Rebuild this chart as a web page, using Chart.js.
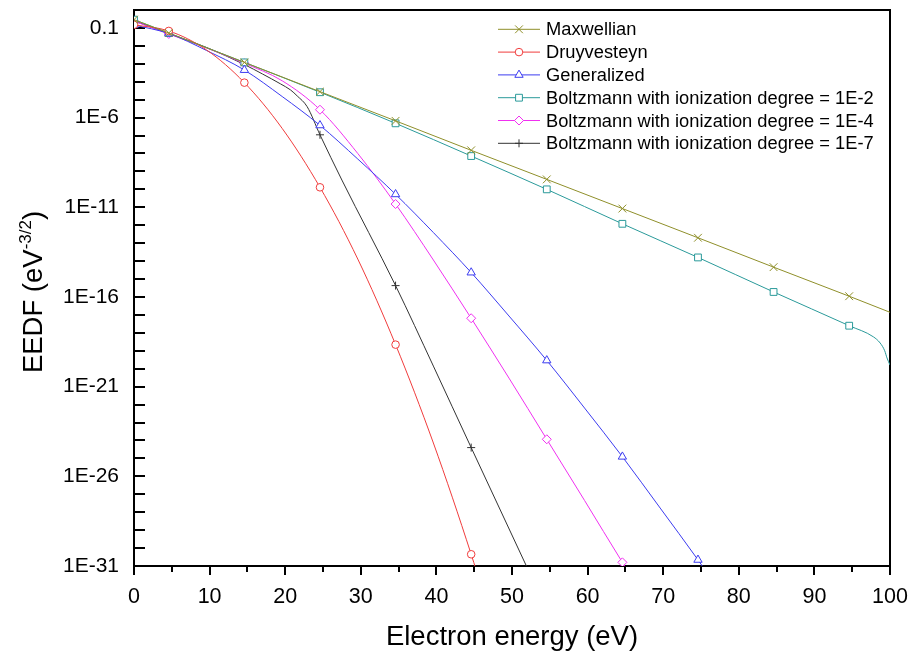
<!DOCTYPE html>
<html lang="en">
<head>
    <meta charset="UTF-8">
    <title>EEDF comparison</title>
    <style>
        body {
            margin: 0;
            background: #fff;
        }
        canvas {
            display: block;
        }
    </style>
    <script src="https://cdn.jsdelivr.net/npm/chart.js"></script>
</head>
<body>
    <canvas id="eedfChart" width="912" height="658"></canvas>
    <script>
        // Electron energies (eV) and EEDF values (eV^-3/2) for each distribution
        const energyMaxwellian = [0, 4.6, 14.6, 24.6, 34.6, 44.6, 54.6, 64.6, 74.6, 84.6, 94.6, 100];
        const maxwellian = [2.9e-1, 5.2e-2, 1.2e-3, 2.8e-5, 6.6e-7, 1.5e-8, 3.6e-10, 8.5e-12, 2.0e-13, 4.6e-15, 1.1e-16, 1.4e-17];

        const energyDruyvesteyn = [0, 4.6, 9.6, 14.6, 19.6, 24.6, 29.6, 34.6, 39.6, 44.6, 46];
        const druyvesteyn = [1.5e-1, 6.8e-2, 5.9e-3, 8.9e-5, 2.5e-7, 1.3e-10, 1.3e-14, 2.2e-19, 7.2e-25, 4.5e-31, 5.6e-33];

        const energyGeneralized = [0, 4.6, 9.6, 14.6, 19.6, 24.6, 29.6, 34.6, 39.6, 44.6, 49.6, 54.6, 59.6, 64.6, 69.6, 74.6, 76];
        const generalized = [1.46e-1, 4.9e-2, 5.5e-3, 4.5e-4, 1.5e-5, 3.7e-7, 4.9e-9, 5.3e-11, 3.9e-13, 2.3e-15, 8.7e-18, 2.9e-20, 6.4e-23, 1.24e-25, 1.7e-28, 2.2e-31, 3.1e-32];

        const energyBoltz2 = [0, 4.6, 14.6, 24.6, 34.6, 44.6, 54.6, 64.6, 74.6, 84.6, 94.6, 97.8, 98.7, 99.3, 99.6, 100];
        const boltzmann2 = [2.9e-1, 5.2e-2, 1.2e-3, 2.6e-5, 4.8e-7, 7.2e-9, 1.0e-10, 1.2e-12, 1.6e-14, 1.9e-16, 2.5e-18, 6.0e-19, 2.7e-19, 1.0e-19, 4.0e-20, 1.6e-20];

        const energyBoltz4 = [0, 4.6, 9.6, 14.6, 19.6, 24.6, 29.6, 34.6, 39.6, 44.6, 49.6, 54.6, 59.6, 64.6, 66];
        const boltzmann4 = [2.4e-1, 4.6e-2, 7.6e-3, 1.07e-3, 1.13e-4, 2.76e-6, 1.0e-8, 1.52e-11, 1.15e-14, 6.5e-18, 3.0e-21, 1.16e-24, 4.5e-28, 1.6e-31, 1.9e-32];

        const energyBoltz7 = [0, 4.6, 9.6, 14.6, 17, 19.4, 20.7, 21.6, 22.9, 24.6, 27.5, 34.6, 39.6, 44.6, 52.5];
        const boltzmann7 = [2.5e-1, 4.9e-2, 8.1e-3, 9.1e-4, 2.7e-4, 7.5e-5, 3.5e-5, 1.6e-5, 4.1e-6, 1.1e-7, 3.3e-10, 4.3e-16, 1.4e-20, 4.0e-25, 2.9e-32];

        // energies where a symbol is drawn on the curves
        const markerEnergies = [0, 4.6, 14.6, 24.6, 34.6, 44.6, 54.6, 64.6, 74.6, 84.6, 94.6];

        const seriesNames = [
            'Maxwellian',
            'Druyvesteyn',
            'Generalized',
            'Boltzmann with ionization degree = 1E-2',
            'Boltzmann with ionization degree = 1E-4',
            'Boltzmann with ionization degree = 1E-7'
        ];

        // labelled decades on the EEDF axis
        const yTickValues = [1e-1, 1e-6, 1e-11, 1e-16, 1e-21, 1e-26, 1e-31];
        const yTickLabels = ['0.1', '1E-6', '1E-11', '1E-16', '1E-21', '1E-26', '1E-31'];

        const FONT = "'Liberation Sans', Arial, sans-serif";

        function toPoints(xs, ys) {
            return xs.map((x, i) => ({ x: x, y: ys[i] }));
        }

        function makeDataset(label, xs, ys, color, style, radius) {
            return {
                label: label,
                data: toPoints(xs, ys),
                borderColor: color,
                borderWidth: 1,
                cubicInterpolationMode: 'monotone',
                pointStyle: style,
                markerSize: radius,
                pointBorderColor: color,
                pointBackgroundColor: '#fff',
                pointBorderWidth: 1,
                pointRadius: (ctx) => (ctx.raw && markerEnergies.includes(ctx.raw.x)) ? radius : 0
            };
        }

        const datasets = [
            makeDataset(seriesNames[0], energyMaxwellian, maxwellian, '#8f8f2a', 'crossRot', 5.5),
            makeDataset(seriesNames[1], energyDruyvesteyn, druyvesteyn, '#f03c3c', 'circle', 3.8),
            makeDataset(seriesNames[2], energyGeneralized, generalized, '#3c3cf0', 'triangle', 4.8),
            makeDataset(seriesNames[3], energyBoltz2, boltzmann2, '#2a9a9a', 'rect', 4.8),
            makeDataset(seriesNames[4], energyBoltz4, boltzmann4, '#f030f0', 'rectRot', 4.5),
            makeDataset(seriesNames[5], energyBoltz7, boltzmann7, '#333333', 'cross', 4)
        ];

        // frame plus inward y ticks and outward x ticks
        const axisFrame = {
            id: 'axisFrame',
            beforeDatasetsDraw(chart) {
                const { ctx, chartArea: a } = chart;
                const xs = chart.scales.x, ys = chart.scales.y;
                ctx.save();
                ctx.strokeStyle = '#000';
                ctx.lineWidth = 2;
                ctx.strokeRect(a.left, a.top, a.right - a.left, a.bottom - a.top);
                ctx.beginPath();
                ys.ticks.forEach(t => {
                    const py = Math.round(ys.getPixelForValue(t.value));
                    if (py <= a.top + 1 || py >= a.bottom - 1) return;
                    ctx.moveTo(a.left, py);
                    ctx.lineTo(a.left + 11, py);
                });
                xs.ticks.forEach(t => {
                    const px = Math.round(xs.getPixelForValue(t.value));
                    const len = t.value % 10 === 0 ? 9 : 6;
                    ctx.moveTo(px, a.bottom);
                    ctx.lineTo(px, a.bottom + len);
                });
                ctx.stroke();
                ctx.restore();
            }
        };

        // rotated axis title with a superscript unit
        const yTitle = {
            id: 'yTitle',
            afterDraw(chart) {
                const ctx = chart.ctx;
                const main = 'EEDF (eV', sup = '-3/2', close = ')';
                ctx.save();
                ctx.translate(42, 292);
                ctx.rotate(-Math.PI / 2);
                ctx.fillStyle = '#000';
                ctx.textBaseline = 'alphabetic';
                ctx.textAlign = 'left';
                ctx.font = '27.5px ' + FONT;
                const w1 = ctx.measureText(main).width;
                const w3 = ctx.measureText(close).width;
                ctx.font = '17px ' + FONT;
                const w2 = ctx.measureText(sup).width;
                let x = -(w1 + w2 + w3) / 2;
                ctx.font = '27.5px ' + FONT;
                ctx.fillText(main, x, 0);
                x += w1;
                ctx.font = '17px ' + FONT;
                ctx.fillText(sup, x, -11);
                x += w2;
                ctx.font = '27.5px ' + FONT;
                ctx.fillText(close, x, 0);
                ctx.restore();
            }
        };

        // legend in the upper right of the plot, line with symbol
        const plotLegend = {
            id: 'plotLegend',
            afterDraw(chart) {
                const ctx = chart.ctx;
                chart.data.datasets.forEach((ds, i) => {
                    const y = 29.3 + i * 22.8;
                    ctx.save();
                    ctx.strokeStyle = ds.borderColor;
                    ctx.lineWidth = 1;
                    ctx.beginPath();
                    ctx.moveTo(498, y);
                    ctx.lineTo(540, y);
                    ctx.stroke();
                    ctx.fillStyle = '#fff';
                    Chart.helpers.drawPoint(ctx, {
                        pointStyle: ds.pointStyle,
                        radius: ds.markerSize,
                        rotation: 0,
                        borderWidth: 1
                    }, 519, y);
                    ctx.fillStyle = '#000';
                    ctx.font = '18.3px ' + FONT;
                    ctx.textBaseline = 'middle';
                    ctx.textAlign = 'left';
                    ctx.fillText(ds.label, 546, y + 1);
                    ctx.restore();
                });
            }
        };

        const ctx = document.getElementById('eedfChart').getContext('2d');
        const eedfChart = new Chart(ctx, {
            type: 'line',
            data: { datasets: datasets },
            plugins: [axisFrame, yTitle, plotLegend],
            options: {
                responsive: false,
                animation: false,
                events: [],
                layout: { padding: { top: 10, right: 22, left: 0, bottom: 0 } },
                plugins: {
                    legend: { display: false },
                    tooltip: { enabled: false }
                },
                scales: {
                    x: {
                        type: 'linear',
                        min: 0,
                        max: 100,
                        grid: { display: false, drawTicks: false },
                        border: { display: false },
                        ticks: {
                            stepSize: 5,
                            autoSkip: false,
                            maxRotation: 0,
                            padding: 18,
                            color: '#000',
                            font: { family: FONT, size: 21.5 },
                            callback: (v) => (v % 10 === 0 ? String(v) : '')
                        },
                        title: {
                            display: true,
                            text: 'Electron energy (eV)',
                            color: '#000',
                            font: { family: FONT, size: 27.5 },
                            padding: { top: 0, bottom: 4 }
                        },
                        afterFit: (s) => {
                            s.height = 92;
                            s.paddingLeft = 0;
                            s.paddingRight = 0;
                        }
                    },
                    y: {
                        type: 'logarithmic',
                        min: 1e-31,
                        max: 1,
                        grid: { display: false, drawTicks: false },
                        border: { display: false },
                        afterBuildTicks: (s) => {
                            const ticks = [];
                            for (let e = -31; e <= -1; e++) ticks.push({ value: Number('1e' + e) });
                            s.ticks = ticks;
                        },
                        ticks: {
                            autoSkip: false,
                            padding: 15,
                            color: '#000',
                            font: { family: FONT, size: 21 },
                            callback: (value) => {
                                const i = yTickValues.findIndex(v => Math.abs(Math.log10(v) - Math.log10(value)) < 1e-6);
                                return i >= 0 ? yTickLabels[i] : '';
                            }
                        },
                        afterFit: (s) => {
                            s.width = 134;
                            s.paddingTop = 0;
                            s.paddingBottom = 0;
                        }
                    }
                }
            }
        });
    </script>
</body>
</html>
